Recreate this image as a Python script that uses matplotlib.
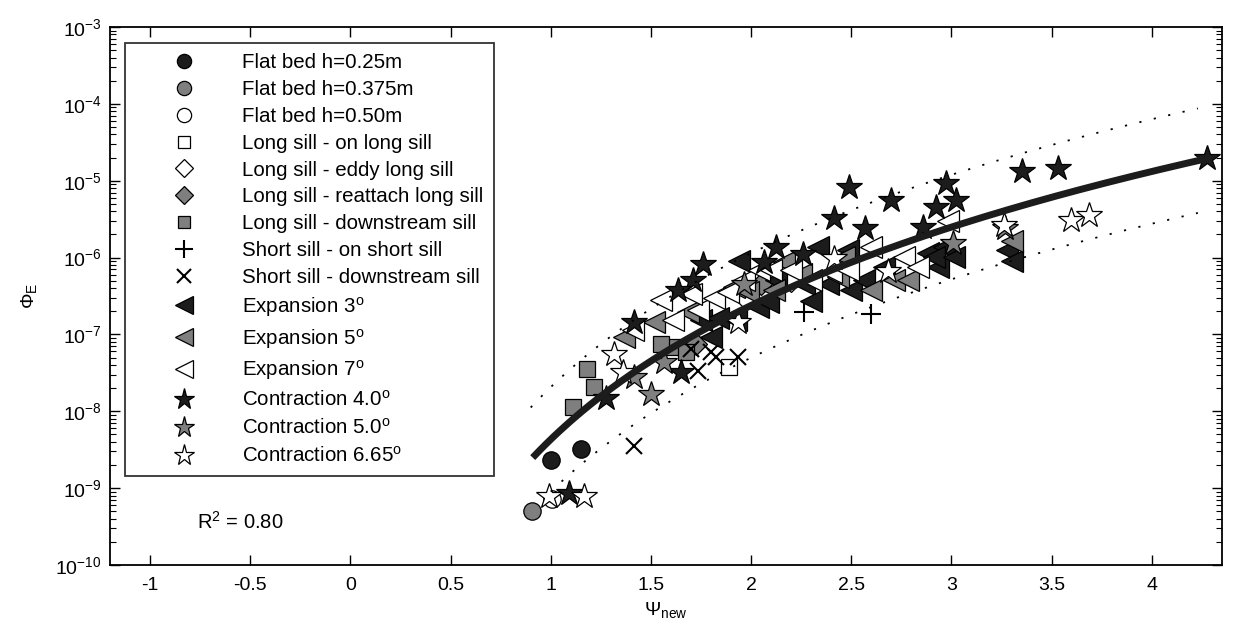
import numpy as np
import matplotlib.pyplot as plt

plt.rcParams['font.family'] = ['Liberation Sans', 'DejaVu Sans']
plt.rcParams['mathtext.fontset'] = 'custom'
plt.rcParams['mathtext.rm'] = 'Liberation Sans'
plt.rcParams['mathtext.it'] = 'Liberation Sans:italic'
plt.rcParams['mathtext.default'] = 'regular'

# data: psi values and log10(phi_E)
flat25_x = [1.00, 1.15]
flat25_lg = [-8.64, -8.49]
flat375_x = [0.905]
flat375_lg = [-9.30]
flat50_x = [1.005]
flat50_lg = [-9.14]

lsill_on_x = [1.89]
lsill_on_lg = [-7.43]
lsill_eddy_x = [1.975, 2.20]
lsill_eddy_lg = [-6.545, -6.31]
lsill_reat_x = [1.725, 2.05]
lsill_reat_lg = [-7.13, -6.35]
lsill_down_x = [1.18, 1.215, 1.11, 1.61, 1.675, 1.55]
lsill_down_lg = [-7.45, -7.68, -7.94, -7.17, -7.23, -7.13]

ssill_on_x = [2.265, 2.60]
ssill_on_lg = [-6.71, -6.74]
ssill_down_x = [1.415, 1.735, 1.80, 1.935, 1.825, 1.70]
ssill_down_lg = [-8.45, -7.48, -7.23, -7.30, -7.29, -7.19]

exp3_x = [1.75, 1.80, 1.835, 2.035, 2.085, 2.125, 2.335, 2.485, 2.50, 2.385, 2.265,
          2.30, 2.565, 2.665, 2.885, 2.935, 2.965, 2.915, 3.015, 3.275, 3.30, 1.925, 1.94]
exp3_lg = [-6.81, -7.03, -6.78, -6.64, -6.58, -6.29, -5.86, -5.90, -6.42, -6.35, -6.35,
           -6.57, -6.29, -6.12, -5.94, -6.12, -5.86, -5.99, -5.99, -5.90, -6.05, -6.81, -6.05]
exp5_x = [1.365, 1.515, 1.685, 1.915, 1.985, 2.115, 2.435, 2.60, 2.715, 2.785, 2.465,
          2.165, 3.30, 2.25]
exp5_lg = [-7.03, -6.84, -6.71, -6.38, -6.45, -6.42, -6.25, -6.42, -6.29, -6.29, -5.99,
           -6.06, -5.79, -6.22]
exp7_x = [1.41, 1.61, 1.735, 1.815, 1.885, 1.965, 2.04, 2.10, 2.20, 2.30, 2.40, 2.60,
          2.765, 2.835, 2.485, 2.985, 1.70, 1.55]
exp7_lg = [-6.94, -6.81, -6.68, -6.52, -6.45, -6.29, -6.16, -6.16, -6.16, -6.29, -6.19,
           -5.86, -5.99, -6.12, -6.16, -5.53, -6.48, -6.55]

con40_x = [4.275, 3.35, 3.53, 2.975, 3.025, 2.925, 2.70, 2.49, 2.415, 2.57, 2.86, 2.125,
           2.26, 2.065, 1.76, 1.71, 1.635, 1.415, 1.275, 1.65, 1.09]
con40_lg = [-4.70, -4.88, -4.83, -5.03, -5.25, -5.34, -5.25, -5.08, -5.48, -5.61, -5.60,
            -5.86, -5.96, -6.06, -6.09, -6.29, -6.42, -6.84, -7.83, -7.49, -9.06]
con50_x = [1.415, 1.50, 1.565, 3.01, 3.265, 1.965]
con50_lg = [-7.56, -7.78, -7.36, -5.81, -5.62, -6.35]
con665_x = [0.99, 1.165, 1.315, 1.36, 1.935, 2.415, 2.685, 3.26, 3.595, 3.685]
con665_lg = [-9.10, -9.10, -7.26, -7.49, -6.84, -6.00, -6.18, -5.57, -5.51, -5.44]

# power-law fit: log10(phi) = a + b*log10(psi), band +/- decades
fit_a = -8.366
fit_b = 5.79
band = 0.68

dark = '#1c1c1c'
gray = '#7f7f7f'

series = [
    (flat25_x, flat25_lg, 'Flat bed h=0.25m', 'o', dark, 12.5),
    (flat375_x, flat375_lg, 'Flat bed h=0.375m', 'o', gray, 12.5),
    (flat50_x, flat50_lg, 'Flat bed h=0.50m', 'o', 'white', 12.5),
    (lsill_on_x, lsill_on_lg, 'Long sill - on long sill', 's', 'white', 11),
    (lsill_eddy_x, lsill_eddy_lg, 'Long sill - eddy long sill', 'D', 'white', 11),
    (lsill_reat_x, lsill_reat_lg, 'Long sill - reattach long sill', 'D', gray, 11),
    (lsill_down_x, lsill_down_lg, 'Long sill - downstream sill', 's', gray, 11),
    (ssill_on_x, ssill_on_lg, 'Short sill - on short sill', '+', 'k', 15),
    (ssill_down_x, ssill_down_lg, 'Short sill - downstream sill', 'x', 'k', 12),
    (exp3_x, exp3_lg, 'Expansion 3$^{o}$', '<', dark, 16),
    (exp5_x, exp5_lg, 'Expansion 5$^{o}$', '<', gray, 16),
    (exp7_x, exp7_lg, 'Expansion 7$^{o}$', '<', 'white', 16),
    (con40_x, con40_lg, 'Contraction 4.0$^{o}$', '*', dark, 19),
    (con50_x, con50_lg, 'Contraction 5.0$^{o}$', '*', gray, 19),
    (con665_x, con665_lg, 'Contraction 6.65$^{o}$', '*', 'white', 19),
]

fig = plt.figure(figsize=(12.33, 6.41), dpi=100)
ax = fig.add_axes([0.0892, 0.1186, 0.9018, 0.8393])

for xs, lg, label, mk, fc, ms in series:
    ys = 10.0 ** np.array(lg)
    if mk in ['+', 'x']:
        ax.plot(xs, ys, linestyle='none', marker=mk, color='k', markersize=ms,
                markeredgewidth=1.5, label=label)
    else:
        ax.plot(xs, ys, linestyle='none', marker=mk, markerfacecolor=fc,
                markeredgecolor='k', markeredgewidth=0.9, markersize=ms, label=label)

# fit line and dotted band
psi = np.linspace(0.91, 4.28, 200)
ax.plot(psi, 10 ** (fit_a + fit_b * np.log10(psi)), color=dark, lw=5,
        solid_capstyle='butt', zorder=5)
psi_up = np.linspace(0.90, 4.23, 200)
ax.plot(psi_up, 10 ** (fit_a + band + fit_b * np.log10(psi_up)), color='k', lw=1.3,
        linestyle=(0, (1.2, 7)), zorder=5)
psi_lo = np.linspace(1.00, 4.23, 200)
ax.plot(psi_lo, 10 ** (fit_a - band + fit_b * np.log10(psi_lo)), color='k', lw=1.3,
        linestyle=(0, (1.2, 7)), zorder=5)

ax.set_yscale('log')
ax.set_xlim(-1.2, 4.35)
ax.set_ylim(1e-10, 1e-3)
ax.set_xticks([-1, -0.5, 0, 0.5, 1, 1.5, 2, 2.5, 3, 3.5, 4])
ax.set_xticklabels(['-1', '-0.5', '0', '0.5', '1', '1.5', '2', '2.5', '3', '3.5', '4'])
ax.set_yticks([10.0 ** k for k in range(-10, -2)])
ax.tick_params(which='both', direction='in', top=True, right=True, labelsize=14)
ax.tick_params(axis='x', pad=9)
ax.tick_params(axis='y', pad=6)
ax.tick_params(which='major', length=7, width=1)
ax.tick_params(which='minor', length=4, width=0.8)
for s in ax.spines.values():
    s.set_linewidth(1.3)

ax.set_xlabel(r'$\Psi_{new}$', fontsize=14)
ax.set_ylabel(r'$\Phi_{E}$', fontsize=14, labelpad=12)

ax.text(-0.765, 10 ** -9.44, 'R$^{2}$ = 0.80', fontsize=14.5, va='center', ha='left')

leg = ax.legend(loc='upper left', bbox_to_anchor=(0.0135, 0.97), fontsize=14.8,
                frameon=True, fancybox=False, edgecolor='k', handlelength=4.7,
                handletextpad=0.5, labelspacing=0.38, borderpad=0.5, markerscale=0.82,
                borderaxespad=0)
leg.get_frame().set_linewidth(1.3)

plt.savefig('out.png', dpi=100)
